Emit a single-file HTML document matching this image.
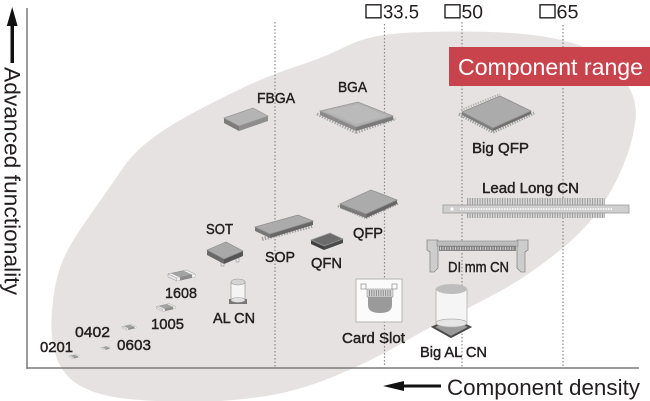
<!DOCTYPE html>
<html><head><meta charset="utf-8"><style>
html,body{margin:0;padding:0;background:#fff;}
svg{display:block;}
.l{font-family:"Liberation Sans",sans-serif;font-size:15px;fill:#231f20;stroke:#231f20;stroke-width:0.45;}
.t{font-family:"Liberation Sans",sans-serif;fill:#231f20;}
</style></head><body>
<svg width="650" height="401" viewBox="0 0 650 401" xmlns="http://www.w3.org/2000/svg">
<defs>
<g id="chip">
<polygon points="0,0 9,4 9,7 0,3" fill="#e6e6e6" stroke="#999" stroke-width="0.5"/>
<polygon points="9,4 27,0 27,3 9,7" fill="#8c8c8c" stroke="#888" stroke-width="0.5"/>
<polygon points="0,0 18,-4 27,0 9,4" fill="#a3a3a3" stroke="#8a8a8a" stroke-width="0.5"/>
<polygon points="0,0 3,-0.7 12,3.3 9,4" fill="#f4f4f4" stroke="#999" stroke-width="0.4"/>
<polygon points="15,-3.3 18,-4 27,0 24,0.7" fill="#f4f4f4" stroke="#999" stroke-width="0.4"/>
<polygon points="24,0.7 27,0 27,3 24,3.7" fill="#eee"/>
<polygon points="9,4 12,3.3 12,6.3 9,7" fill="#eee"/>
</g>
</defs>

<!-- range ellipse -->
<path d="M425,32 Q458,31 491.5,32 Q525,33 551.5,38 Q578,43 593,51.5 Q608,60 618,71.5 Q628,83 632.5,95 Q637,107 635.5,120 Q634,133 630,146.5 Q626,160 619,175 Q612,190 604,202.5 Q596,215 585.5,226.5 Q575,238 561.5,249 Q548,260 534,270 Q520,280 505,288.5 Q490,297 474,305 Q458,313 441.5,321.5 Q425,330 405,341.5 Q385,353 367.5,361.5 Q350,370 330,378 Q310,386 288.5,391.5 Q267,397 233.5,400 Q200,403 166.5,401.5 Q133,400 116.5,397.5 Q100,395 86.5,389 Q73,383 65,373 Q57,363 54,349 Q51,335 51.5,320 Q52,305 54.5,290 Q57,275 62,262.5 Q67,250 76,236 Q85,222 97.5,204.5 Q110,187 121.5,170 Q133,153 150,140 Q167,127 192,113.5 Q217,100 243.5,87.5 Q270,75 297.5,66 Q325,57 341.5,48.5 Q358,40 375,36.5 Q392,33 425,32 Z" fill="#e6e2e1"/>

<!-- dotted guide lines -->
<g stroke="#8a8a8a" stroke-width="1.2" stroke-dasharray="1.5 2">
<line x1="275" y1="22" x2="275" y2="367"/>
<line x1="384.5" y1="24" x2="384.5" y2="367"/>
<line x1="462" y1="22" x2="462" y2="367"/>
<line x1="563" y1="25" x2="563" y2="367"/>
</g>

<!-- axes -->
<line x1="27" y1="8" x2="27" y2="368.7" stroke="#7a7a7a" stroke-width="1.5"/>
<line x1="26.3" y1="368" x2="639" y2="368" stroke="#7a7a7a" stroke-width="1.5"/>

<!-- arrows -->
<polygon points="12.2,7 17.6,26 6.8,26" fill="#111"/>
<rect x="10.5" y="25" width="3.5" height="38" fill="#111"/>
<polygon points="383,386 404,381 404,391" fill="#111"/>
<rect x="403" y="384.5" width="38" height="3" fill="#111"/>

<!-- axis labels -->
<text class="t" transform="translate(4.5,67) rotate(90)" font-size="22.5" textLength="228" lengthAdjust="spacingAndGlyphs">Advanced functionality</text>
<text class="t" x="447" y="395" font-size="22.5" textLength="193" lengthAdjust="spacingAndGlyphs">Component density</text>

<!-- size labels -->
<rect x="366" y="4.8" width="15" height="13" fill="none" stroke="#231f20" stroke-width="1.4"/>
<text class="t" x="383" y="18.5" font-size="19" textLength="36" lengthAdjust="spacingAndGlyphs">33.5</text>
<rect x="445" y="4.8" width="15" height="13" fill="none" stroke="#231f20" stroke-width="1.4"/>
<text class="t" x="461.5" y="18.5" font-size="19" textLength="21.5" lengthAdjust="spacingAndGlyphs">50</text>
<rect x="540" y="4.8" width="15" height="13" fill="none" stroke="#231f20" stroke-width="1.4"/>
<text class="t" x="556.5" y="18.5" font-size="19" textLength="22" lengthAdjust="spacingAndGlyphs">65</text>

<!-- component range box -->
<rect x="449" y="47" width="201" height="39" fill="#c8434b"/>
<text x="458" y="75" font-family="Liberation Sans, sans-serif" font-size="23" fill="#fff" textLength="185" lengthAdjust="spacingAndGlyphs">Component range</text>

<!-- FBGA -->
<polygon points="224,118 239,126 239,131 224,123" fill="#7b7b7b"/>
<polygon points="239,126 268,116 268,121 239,131" fill="#8e8e8e"/>
<polygon points="224,118 253,108 268,116 239,126" fill="#b4b4b4" stroke="#999" stroke-width="0.7"/>

<!-- BGA -->
<line x1="317" y1="114" x2="356" y2="132.5" stroke="#a5a5a5" stroke-width="3" stroke-dasharray="1.4 1.4"/>
<line x1="356" y1="132.5" x2="396" y2="118.5" stroke="#a5a5a5" stroke-width="3" stroke-dasharray="1.4 1.4"/>
<polygon points="320,111 356,127 356,131 320,115" fill="#8a8a8a"/>
<polygon points="356,127 393,116 393,120 356,131" fill="#7a7a7a"/>
<polygon points="320,111 358,102 393,116 356,127" fill="#b1b1b1" stroke="#9a9a9a" stroke-width="0.8"/>
<polygon points="325,111 358,104 387,116 356,124" fill="#bababa"/>

<!-- Big QFP -->
<line x1="459" y1="114" x2="493" y2="132" stroke="#9c9c9c" stroke-width="3.5" stroke-dasharray="1.3 1.3"/>
<line x1="493" y1="132" x2="534" y2="113" stroke="#9c9c9c" stroke-width="3.5" stroke-dasharray="1.3 1.3"/>
<line x1="461" y1="110" x2="500" y2="94" stroke="#b0b0b0" stroke-width="2" stroke-dasharray="1.3 1.3"/>
<polygon points="462,112 493,128 493,131 462,115" fill="#7e7e7e"/>
<polygon points="493,128 531,111 531,114 493,131" fill="#6e6e6e"/>
<polygon points="462,112 500,96 531,111 493,128" fill="#ababab" stroke="#8f8f8f" stroke-width="0.8"/>

<!-- QFP -->
<line x1="338" y1="206" x2="366" y2="218" stroke="#9c9c9c" stroke-width="2.5" stroke-dasharray="1.3 1.3"/>
<line x1="366" y1="218" x2="399" y2="203" stroke="#9c9c9c" stroke-width="2.5" stroke-dasharray="1.3 1.3"/>
<polygon points="340,204 366,214 366,218 340,208" fill="#7a7a7a"/>
<polygon points="366,214 397,200 397,204 366,218" fill="#666"/>
<polygon points="340,204 371,190 397,200 366,214" fill="#ababab" stroke="#8f8f8f" stroke-width="0.8"/>

<!-- SOP -->
<line x1="262" y1="239" x2="312" y2="226" stroke="#a0a0a0" stroke-width="4" stroke-dasharray="1.4 1.4"/>
<polygon points="255,227 270,234 270,238 255,231" fill="#777"/>
<polygon points="270,234 313,221 313,225 270,238" fill="#666"/>
<polygon points="255,227 298,215 313,221 270,234" fill="#ababab" stroke="#8f8f8f" stroke-width="0.7"/>

<!-- QFN -->
<polygon points="311,240 324,246 324,250 311,244" fill="#3f3f3f"/>
<polygon points="324,246 343,239 343,243 324,250" fill="#4a4a4a"/>
<polygon points="311,240 330,233 343,239 324,246" fill="#6c6c6c" stroke="#999" stroke-width="0.7"/>

<!-- SOT -->
<rect x="221" y="262" width="3" height="4" fill="#e6e6e6" stroke="#888" stroke-width="0.5"/>
<rect x="236" y="258" width="3" height="4" fill="#e6e6e6" stroke="#888" stroke-width="0.5"/>
<polygon points="207,250 224,259 224,264 207,255" fill="#6a6a6a"/>
<polygon points="224,259 243,251 243,256 224,264" fill="#555"/>
<polygon points="207,250 226,242 243,251 224,259" fill="#a9a9a9" stroke="#8a8a8a" stroke-width="0.6"/>

<!-- AL CN -->
<rect x="229" y="299" width="18" height="5" fill="#777"/>
<rect x="231" y="282" width="14" height="18" fill="#f4f4f4" stroke="#9a9a9a" stroke-width="0.7"/>
<ellipse cx="238" cy="300" rx="7" ry="2.5" fill="#e2e2e2" stroke="#9a9a9a" stroke-width="0.6"/>
<ellipse cx="238" cy="282" rx="7" ry="3" fill="#d4d4d4" stroke="#9a9a9a" stroke-width="0.6"/>

<!-- Card Slot -->
<rect x="356" y="279" width="46" height="43" fill="#fbfbfb" stroke="#b5b5b5" stroke-width="1"/>
<rect x="361" y="284" width="5" height="5" fill="none" stroke="#999" stroke-width="0.8"/>
<rect x="392" y="284" width="5" height="5" fill="none" stroke="#999" stroke-width="0.8"/>
<rect x="367" y="289" width="26" height="8" fill="#d6d6d6" stroke="#999" stroke-width="0.6"/>
<line x1="369" y1="293" x2="391" y2="293" stroke="#8a8a8a" stroke-width="6" stroke-dasharray="1 1.3"/>
<path d="M368,297 L392,297 L392,305 Q392,313 380,313 Q368,313 368,305 Z" fill="#9a9a9a"/>

<!-- Lead Long CN -->
<rect x="467" y="198" width="138" height="7" fill="#d8d8d8"/>
<line x1="467" y1="201.5" x2="605" y2="201.5" stroke="#a0a0a0" stroke-width="7" stroke-dasharray="1.1 1.4"/>
<rect x="467" y="213" width="138" height="5" fill="#d8d8d8"/>
<line x1="467" y1="215.5" x2="605" y2="215.5" stroke="#a0a0a0" stroke-width="5" stroke-dasharray="1.1 1.4"/>
<rect x="443" y="205" width="186" height="8" fill="#cfcfcf" stroke="#9a9a9a" stroke-width="0.8"/>
<line x1="460" y1="209" x2="612" y2="209" stroke="#fafafa" stroke-width="2" stroke-dasharray="1.3 1.3"/>
<circle cx="452" cy="209" r="1.6" fill="#fff"/>

<!-- DIMM CN -->
<polygon points="427,240 438,240 438,268 434,272 430,272 430,252 427,250" fill="#cdcdcd" stroke="#8a8a8a" stroke-width="0.8"/>
<polygon points="528,240 517,240 517,268 521,272 525,272 525,252 528,250" fill="#cdcdcd" stroke="#8a8a8a" stroke-width="0.8"/>
<rect x="437" y="241" width="81" height="5" fill="#bdbdbd" stroke="#8a8a8a" stroke-width="0.6"/>
<rect x="439" y="246" width="77" height="5" fill="#858585"/>
<line x1="440" y1="248.5" x2="515" y2="248.5" stroke="#c8c8c8" stroke-width="3" stroke-dasharray="1 1.5"/>

<!-- Big AL CN -->
<polygon points="433,327 452,318 470,327 451,337" fill="#9a9a9a" stroke="#4a4a4a" stroke-width="2"/>
<rect x="436" y="289" width="31" height="34" fill="#f5f5f5" stroke="#b0b0b0" stroke-width="0.8"/>
<ellipse cx="451.5" cy="323" rx="15.5" ry="4" fill="#e6e6e6" stroke="#b0b0b0" stroke-width="0.8"/>
<ellipse cx="451.5" cy="289" rx="15.5" ry="5" fill="#bdbdbd"/>

<!-- small chips -->
<use href="#chip" transform="translate(168,274)"/>
<use href="#chip" transform="translate(156.5,306.5) scale(0.7)"/>
<use href="#chip" transform="translate(122,326.5) scale(0.52)"/>
<use href="#chip" transform="translate(101,347.5) scale(0.35)"/>
<use href="#chip" transform="translate(69,356) scale(0.38)"/>

<!-- labels -->
<text class="l" x="257" y="103" textLength="38" lengthAdjust="spacingAndGlyphs">FBGA</text>
<text class="l" x="338" y="92" textLength="29" lengthAdjust="spacingAndGlyphs">BGA</text>
<text class="l" x="472" y="153" textLength="57" lengthAdjust="spacingAndGlyphs">Big QFP</text>
<text class="l" x="482" y="193" textLength="97" lengthAdjust="spacingAndGlyphs">Lead Long CN</text>
<text class="l" x="206" y="234" textLength="27" lengthAdjust="spacingAndGlyphs">SOT</text>
<text class="l" x="265" y="262" textLength="30" lengthAdjust="spacingAndGlyphs">SOP</text>
<text class="l" x="311" y="268" textLength="31" lengthAdjust="spacingAndGlyphs">QFN</text>
<text class="l" x="353" y="238" textLength="30" lengthAdjust="spacingAndGlyphs">QFP</text>
<text class="l" x="213" y="323" textLength="42" lengthAdjust="spacingAndGlyphs">AL CN</text>
<text class="l" x="342" y="343" textLength="63" lengthAdjust="spacingAndGlyphs">Card Slot</text>
<text class="l" x="448" y="272" textLength="61" lengthAdjust="spacingAndGlyphs">DI mm CN</text>
<text class="l" x="420" y="357" textLength="67" lengthAdjust="spacingAndGlyphs">Big AL CN</text>
<text class="l" x="165" y="298" textLength="32" lengthAdjust="spacingAndGlyphs">1608</text>
<text class="l" x="151" y="329" textLength="33" lengthAdjust="spacingAndGlyphs">1005</text>
<text class="l" x="75" y="337" textLength="35" lengthAdjust="spacingAndGlyphs">0402</text>
<text class="l" x="117" y="350" textLength="34" lengthAdjust="spacingAndGlyphs">0603</text>
<text class="l" x="40" y="352" textLength="33" lengthAdjust="spacingAndGlyphs">0201</text>
</svg>
</body></html>
